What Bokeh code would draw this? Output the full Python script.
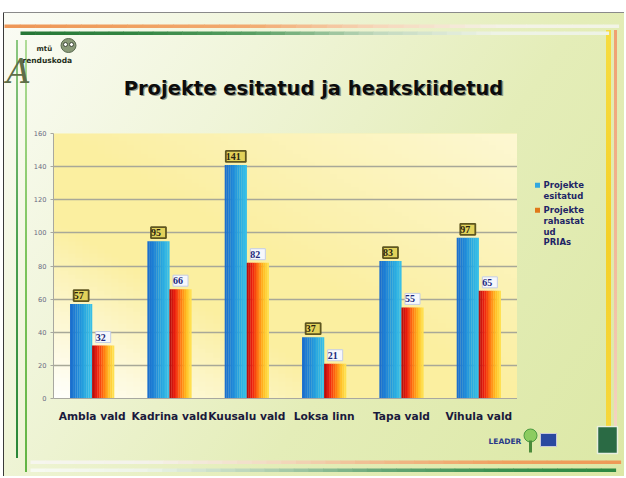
import numpy as np
from bokeh.plotting import figure
from bokeh.layouts import column, row
from bokeh.models import ColumnDataSource, LabelSet, Range1d, FixedTicker
from bokeh.core.properties import value
from bokeh.embed import file_html
from bokeh.resources import INLINE

# ---------------- data ----------------
categories = ["Ambla vald", "Kadrina vald", "Kuusalu vald", "Loksa linn", "Tapa vald", "Vihula vald"]
esitatud = [57, 95, 141, 37, 83, 97]
rahastatud = [32, 66, 82, 21, 55, 65]
series_names = ["Projekte\nesitatud", "Projekte\nrahastat\nud\nPRIAs"]
y_ticks = [0, 20, 40, 60, 80, 100, 120, 140, 160]
title_text = "Projekte esitatud ja heakskiidetud"

# ---------------- helpers ----------------
def hex2rgb(h):
    h = h.lstrip("#")
    return [int(h[i:i + 2], 16) for i in (0, 2, 4)]

def interp(stops, t):
    n = len(stops) - 1
    t = min(max(t, 0.0), 1.0)
    k = min(int(t * n), n - 1)
    f = t * n - k
    a, b = hex2rgb(stops[k]), hex2rgb(stops[k + 1])
    return "#%02x%02x%02x" % tuple(int(round(a[i] + (b[i] - a[i]) * f)) for i in range(3))

FONT = value("DejaVu Sans")

def deco_fig(w, h, x0, y0):
    f = figure(width=w, height=h, x_range=Range1d(x0, x0 + w), y_range=Range1d(y0 + h, y0),
               x_axis_location=None, y_axis_location=None, toolbar_location=None,
               output_backend="svg", min_border=0, outline_line_color=None,
               background_fill_alpha=0, border_fill_alpha=0)
    f.xgrid.visible = False
    f.ygrid.visible = False
    return f

def grad_h(f, x0, x1, y0, y1, stops, n=40):
    xs = np.linspace(x0, x1, n + 1)
    f.quad(left=xs[:-1], right=xs[1:] + 0.6, top=y0, bottom=y1,
           fill_color=[interp(stops, (i + 0.5) / n) for i in range(n)], line_color=None)

TW, TH = 624, 476

# ---------------- top strip (title, logo, template lines) ----------------
ft = deco_fig(TW, 128, 0, 0)
grad_h(ft, 4, 618, 24, 27.5, ["#ee9656", "#f0a060", "#f2aa70", "#f6d6b8", "#f4f2e6", "#f2f4e6"])
grad_h(ft, 20, 608, 31, 34.5, ["#267636", "#348644", "#5aa064", "#c0d8bc", "#eef3e6", "#eef3e6"])
# logo
ft.text(x=[6], y=[70], text=["A"], text_font=value("DejaVu Serif"), text_font_style="italic",
        text_font_size="34px", text_color="#5e6e48", text_baseline="alphabetic")
ft.text(x=[36], y=[52], text=["mtü"], text_font=FONT, text_font_style="bold",
        text_font_size="7px", text_color="#2a3020")
ft.ellipse(x=[68], y=[45], width=[15], height=[14], fill_color="#8a9a78", line_color="#5a6a50")
ft.scatter(x=[65, 71], y=[44, 44], size=4, fill_color="white", line_color="#404838")
ft.text(x=[22], y=[64], text=["renduskoda"], text_font=FONT, text_font_style="bold",
        text_font_size="7.5px", text_color="#263020")
# title (with soft shadow)
ft.text(x=[313 + 1.3], y=[88 + 1.3], text=[title_text], text_align="center", text_baseline="middle",
        text_font=FONT, text_font_style="bold", text_font_size="19.5px", text_color="#6a7060",
        text_alpha=0.7)
ft.text(x=[313], y=[88], text=[title_text], text_align="center", text_baseline="middle",
        text_font=FONT, text_font_style="bold", text_font_size="19.5px", text_color="#0c0c0c")

# ---------------- left strip ----------------
fl = deco_fig(28, 297, 0, 128)

# ---------------- main chart ----------------
n_cat = len(categories)
xpos = np.arange(n_cat) + 0.5
bar_w = 0.285
n_str = 12

p = figure(width=489, height=297, x_range=Range1d(0, n_cat), y_range=Range1d(y_ticks[0], y_ticks[-1]),
           output_backend="svg", toolbar_location=None,
           min_border_left=25, min_border_right=0, min_border_top=5, min_border_bottom=20,
           background_fill_color="#fbf3b4", border_fill_alpha=0, outline_line_color=None)

# plot-area gradient: white bottom-left, yellow band along the diagonal
gh, gw = 64, 64
vv, uu = np.mgrid[0:gh, 0:gw]
s = uu / (gw - 1) + vv / (gh - 1)
tt = np.where(s < 1, np.clip(s * 1.5, 0, 1), 1 - 0.55 * (s - 1))
white = np.array([255, 255, 252])
yel = np.array([251, 239, 160])
img = np.zeros((gh, gw), dtype=np.uint32)
view = img.view(dtype=np.uint8).reshape((gh, gw, 4))
for c in range(3):
    view[:, :, c] = (white[c] + (yel[c] - white[c]) * tt).astype(np.uint8)
view[:, :, 3] = 255
p.image_rgba(image=[img], x=0, y=y_ticks[0], dw=n_cat, dh=y_ticks[-1] - y_ticks[0], level="image")

blue_stops = ["#1a6ccc", "#1f86d8", "#28a8e0", "#3ac2e8"]
red_stops = ["#b00c0c", "#ee1e10", "#ff7010", "#ffbc20", "#ffe658"]
sw = bar_w / n_str
for vals, stops, side in [(esitatud, blue_stops, -1), (rahastatud, red_stops, 1)]:
    for i in range(n_str):
        off = (-bar_w + (i + 0.5) * sw) if side < 0 else ((i + 0.5) * sw)
        src = ColumnDataSource(dict(x=xpos + off, top=vals))
        p.vbar(x="x", top="top", bottom=0, width=sw * 1.1, source=src,
               fill_color=interp(stops, (i + 0.5) / n_str), line_color=None)

lab1 = ColumnDataSource(dict(x=xpos - bar_w / 2, y=esitatud, t=[" %d " % v for v in esitatud]))
lab2 = ColumnDataSource(dict(x=xpos + bar_w / 2, y=rahastatud, t=[" %d " % v for v in rahastatud]))
p.add_layout(LabelSet(x="x", y="y", text="t", source=lab1, y_offset=3, text_align="center",
                      text_baseline="bottom", text_font="DejaVu Sans", text_font_style="bold",
                      text_font_size="7.5pt", text_color="#2a2410",
                      background_fill_color="#e2d25a", border_line_color="#5e5620",
                      border_line_width=1.8))
p.add_layout(LabelSet(x="x", y="y", text="t", source=lab2, y_offset=3, text_align="center",
                      text_baseline="bottom", text_font="DejaVu Sans", text_font_style="bold",
                      text_font_size="7.5pt", text_color="#20287a",
                      background_fill_color="#f6f7fc", border_line_color="#c4cde6",
                      border_line_width=1))

p.yaxis.ticker = FixedTicker(ticks=y_ticks)
p.yaxis.major_label_text_font = "DejaVu Sans"
p.yaxis.major_label_text_font_size = "5pt"
p.yaxis.major_label_text_color = "#686880"
p.yaxis.axis_line_color = "#a8a8a0"
p.yaxis.major_tick_line_color = "#a8a8a0"
p.yaxis.major_tick_out = 3
p.yaxis.major_tick_in = 0
p.yaxis.minor_tick_line_color = None
p.yaxis.major_label_standoff = 4

p.xaxis.ticker = FixedTicker(ticks=list(xpos))
p.xaxis.major_label_overrides = {float(x): c for x, c in zip(xpos, categories)}
p.xaxis.major_label_text_font = "DejaVu Sans"
p.xaxis.major_label_text_font_style = "bold"
p.xaxis.major_label_text_font_size = "8pt"
p.xaxis.major_label_text_color = "#1a1a3c"
p.xaxis.axis_line_color = "#a8a8a0"
p.xaxis.major_tick_line_color = None
p.xaxis.minor_tick_line_color = None
p.xaxis.major_label_standoff = 5

p.xgrid.grid_line_color = None
p.ygrid.grid_line_color = "#a8a898"
p.ygrid.grid_line_width = 1.5

# ---------------- right strip (legend) ----------------
fr = deco_fig(TW - 517, 297, 517, 128)
legend_colors = ["#30a8e0", "#e07818"]
leg_y0 = [186, 214]
for name, col, y0 in zip(series_names, legend_colors, leg_y0):
    lines = name.split("\n")
    fr.scatter(x=[537], y=[y0], marker="square", size=5, fill_color=col, line_color=None)
    fr.text(x=[543] * len(lines), y=[y0 + 12 * k for k in range(len(lines))], text=lines,
            text_font=FONT, text_font_style="bold", text_font_size="8.5px",
            text_color="#1e2466", text_baseline="middle")

# ---------------- bottom strip ----------------
fb = deco_fig(TW, TH - 425, 0, 425)
grad_h(fb, 30, 620, 460, 463.5, ["#f6f6ee", "#f4f2ea", "#f2dcc4", "#f0ba8a", "#f0a060", "#ee9a56"])
grad_h(fb, 30, 615, 468, 471.5, ["#f8faf2", "#eef4e8", "#b4d2b4", "#66a676", "#3a9050", "#2c8840"])
fb.text(x=[488], y=[441], text=["LEADER"], text_font=FONT, text_font_style="bold",
        text_font_size="7.5px", text_color="#2a3a88", text_baseline="middle")
fb.ellipse(x=[530], y=[435], width=[13], height=[13], fill_color="#8ccc60", line_color="#4a9a40")
fb.quad(left=[528.5], right=[531.5], top=[440], bottom=[452], fill_color="#4a8a3a", line_color=None)
fb.quad(left=[540], right=[556], top=[433], bottom=[446], fill_color="#2a48a0", line_color="#c8c8d8")
fb.quad(left=[597], right=[617], top=[426], bottom=[453], fill_color="#2a6a44", line_color="#e8efe0",
        line_width=1.5)

# slide template background (page frame, side rules, gradient)
bg = ", ".join([
    "linear-gradient(#ffffff,#ffffff) 0 0/100% 12px no-repeat",
    "linear-gradient(#ffffff,#ffffff) 0 0/3px 100% no-repeat",
    "linear-gradient(#8a8a8a,#8a8a8a) 3px 12px/100% 1px no-repeat",
    "linear-gradient(#3a3a3a,#3a3a3a) 3px 12px/1px 100% no-repeat",
    "linear-gradient(to bottom, #8cc880, #4aa050, #2a8638) 16px 40px/2px 418px no-repeat",
    "linear-gradient(to bottom, #b0dc98, #7cc45c, #62b444) 25px 40px/2px 432px no-repeat",
    "linear-gradient(to bottom, #f6dc40, #f4d028, #f6d840) 606px 30px/5px 422px no-repeat",
    "linear-gradient(to bottom, #f0a070, #f2b898, #f4d8c8) 614px 30px/3px 422px no-repeat",
    "linear-gradient(125deg, #fbfcf6 0%, #f0f5da 30%, #e4edb8 62%, #dce8a6 100%)",
])
layout = column(ft, row(fl, p, fr), fb, styles={"background": bg})

open("out.html", "w").write(file_html(layout, INLINE))
